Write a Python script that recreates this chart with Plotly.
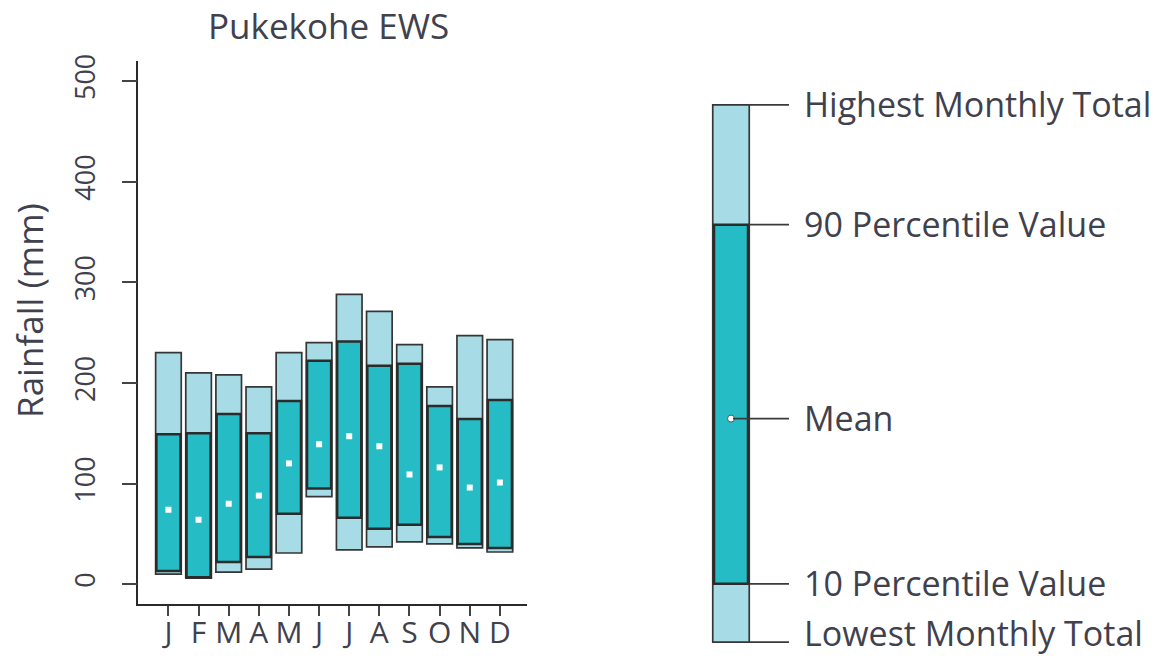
import plotly.graph_objects as go

# ---- data (mm) ----
month_labels = ["J", "F", "M", "A", "M", "J", "J", "A", "S", "O", "N", "D"]
lowest  = [10, 6, 12, 15, 31, 87, 34, 37, 42, 40, 36, 32]
p10     = [13, 7, 22, 27, 70, 95, 66, 55, 59, 47, 40, 36]
mean    = [74, 64, 80, 88, 120, 139, 147, 137, 109, 116, 96, 101]
p90     = [149, 150, 169, 150, 182, 222, 241, 217, 219, 177, 164, 183]
highest = [230, 210, 208, 196, 230, 240, 288, 271, 238, 196, 247, 243]
y_ticks = [0, 100, 200, 300, 400, 500]

# key (schematic) levels, in key-axis units
key_labels = ["Highest Monthly Total", "90 Percentile Value", "Mean",
              "10 Percentile Value", "Lowest Monthly Total"]
key_levels = [560, 439, 243, 76, 17]  # high, p90, mean, p10, low

LIGHT = "#A7DCE7"
DARK = "#25BCC5"
EDGE = "#2b2b2b"
TXT = "#41414e"
FONT = "Open Sans"

W, H = 1166, 659
def px_x(p):
    return p / W
def Y(p):
    # compensate the small vertical offset/scale seen in the rendered page
    return (p - 8.2) / 0.9857
def px_y(p):
    return 1 - Y(p) / H

x = list(range(len(month_labels)))

fig = go.Figure()
fig.add_trace(go.Bar(
    x=x, y=[h - l for h, l in zip(highest, lowest)], base=lowest,
    width=0.85, marker=dict(color=LIGHT, line=dict(color="#363636", width=1.7)),
    hoverinfo="skip", showlegend=False))
fig.add_trace(go.Bar(
    x=x, y=[h - l for h, l in zip(p90, p10)], base=p10,
    width=0.8, marker=dict(color=DARK, line=dict(color=EDGE, width=2.5)),
    hoverinfo="skip", showlegend=False))
fig.add_trace(go.Scatter(
    x=x, y=mean, mode="markers",
    marker=dict(color="white", size=6, symbol="square"),
    hoverinfo="skip", showlegend=False))

# ---- key on second axes ----
kh, k90, km, k10, kl = key_levels
fig.add_trace(go.Bar(
    x=[731], y=[kh - kl], base=[kl], width=36.5, xaxis="x2", yaxis="y2",
    marker=dict(color=LIGHT, line=dict(color="#363636", width=1.7)),
    hoverinfo="skip", showlegend=False))
fig.add_trace(go.Bar(
    x=[731], y=[k90 - k10], base=[k10], width=34, xaxis="x2", yaxis="y2",
    marker=dict(color=DARK, line=dict(color=EDGE, width=2.5)),
    hoverinfo="skip", showlegend=False))
fig.add_trace(go.Scatter(
    x=[731], y=[km], mode="markers", xaxis="x2", yaxis="y2",
    marker=dict(color="white", size=7, line=dict(color="#555", width=1)),
    hoverinfo="skip", showlegend=False))
for i, lv in enumerate(key_levels):
    x0 = 733 if i == 2 else 749
    fig.add_trace(go.Scatter(
        x=[x0, 789], y=[lv, lv], mode="lines", xaxis="x2", yaxis="y2",
        line=dict(color="#3a3a3a", width=1.8), hoverinfo="skip", showlegend=False))
    last = i == len(key_levels) - 1
    fig.add_annotation(x=802, y=(1.5 if last else lv + 1), xref="x2", yref="y2",
                       text=key_labels[i], showarrow=False, xanchor="left",
                       yanchor=("bottom" if last else "middle"),
                       font=dict(family=FONT, size=34, color=TXT))

fig.update_layout(
    width=W, height=H,
    margin=dict(l=0, r=0, t=0, b=0),
    paper_bgcolor="white", plot_bgcolor="rgba(0,0,0,0)",
    barmode="overlay",
    font=dict(family=FONT, color=TXT),
    xaxis=dict(
        domain=[px_x(138.3), px_x(527)], range=[-1, 11.9],
        tickvals=x, ticktext=month_labels,
        showline=True, linecolor="#2a2a2a", linewidth=1.6,
        ticks="outside", ticklen=10, tickwidth=1.6, tickcolor="#444",
        showgrid=False, zeroline=False, ticklabelstandoff=-9,
        tickfont=dict(family=FONT, size=30, color=TXT)),
    yaxis=dict(
        domain=[px_y(603.3), px_y(62)], range=[-20, 519.8],
        tickvals=y_ticks,
        showline=True, linecolor="#2a2a2a", linewidth=1.6,
        ticks="outside", ticklen=15, tickwidth=1.6, tickcolor="#444",
        showgrid=False, zeroline=False, tickangle=-90,
        ticklabelstandoff=16,
        tickfont=dict(family=FONT, size=27, color=TXT)),
    xaxis2=dict(domain=[px_x(690), 1], range=[690, 1166], visible=False, anchor="y2"),
    yaxis2=dict(domain=[0, 1], range=[0, 659], visible=False, anchor="x2"),
)
fig.add_annotation(x=px_x(328), y=px_y(27), xref="paper", yref="paper",
                   text="Pukekohe EWS", showarrow=False,
                   xanchor="center", yanchor="middle",
                   font=dict(family=FONT, size=35, color=TXT))
fig.add_annotation(x=px_x(30), y=px_y(311), xref="paper", yref="paper",
                   text="Rainfall (mm)", showarrow=False, textangle=-90,
                   xanchor="center", yanchor="middle",
                   font=dict(family=FONT, size=35, color=TXT))

fig.write_html("out.html",
               config={"displayModeBar": False},
               post_script="document.body.style.margin='0';"
                           "document.body.style.overflow='hidden';")
